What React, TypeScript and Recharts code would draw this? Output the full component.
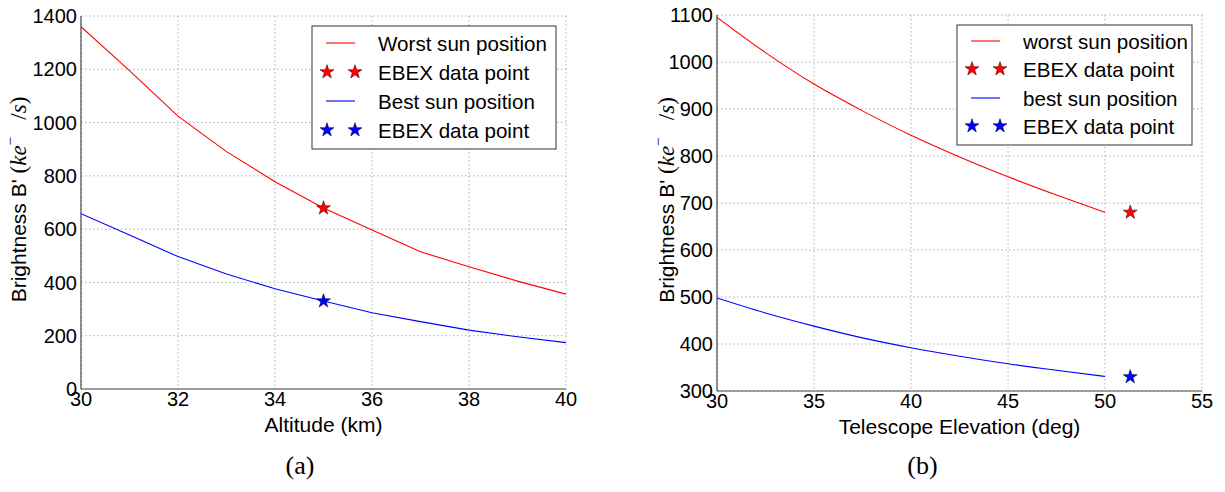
import React from 'react';
import { ComposedChart, Line, Scatter, XAxis, YAxis, CartesianGrid, Label, Symbols } from 'recharts';

// ---------- Data: panel (a) ----------
const altitudeKm = [30, 31, 32, 33, 34, 35, 36, 37, 38, 39, 40];
const worstAltitude = [1360, 1195, 1024, 891, 778, 679, 597, 515, 459, 405, 356];
const bestAltitude = [658, 578, 497, 432, 376, 330, 286, 253, 221, 196, 174];
const altitudeEbexX = [35];
const altitudeEbexWorst = [679];
const altitudeEbexBest = [330];
const altitudeTicks = [30, 32, 34, 36, 38, 40];
const altitudeBrightTicks = [0, 200, 400, 600, 800, 1000, 1200, 1400];
const altitudeLegend = ['Worst sun position', 'EBEX data point', 'Best sun position', 'EBEX data point'];

// ---------- Data: panel (b) ----------
const elevationDeg = [30, 32.5, 35, 37.5, 40, 42.5, 45, 47.5, 50];
const worstElevation = [1095, 1020, 953, 896, 844, 798, 756, 717, 680];
const bestElevation = [498, 466, 438, 413, 392, 374, 358, 344, 331];
const elevationEbexX = [51.3];
const elevationEbexWorst = [680];
const elevationEbexBest = [330];
const elevationTicks = [30, 35, 40, 45, 50, 55];
const elevationBrightTicks = [300, 400, 500, 600, 700, 800, 900, 1000, 1100];
const elevationLegend = ['worst sun position', 'EBEX data point', 'best sun position', 'EBEX data point'];

const SANS = '"Liberation Sans", Arial, Helvetica, sans-serif';
const SERIF = '"Liberation Serif", "Times New Roman", serif';
const FRAME = '#4a4a4a';
const GRID = '#b0b0b0';
const RED = '#ff0000';
const BLUE = '#0000ff';

const buildTable = (xs: number[], worst: number[], best: number[]) =>
  xs.map((x, i) => ({ x, worst: worst[i], best: best[i] }));
const buildPoints = (xs: number[], ys: number[]) => xs.map((x, i) => ({ x, y: ys[i] }));

const starShape = (fill: string, stroke: string) => (p: any) => (
  <Symbols type="star" cx={p.cx} cy={p.cy} size={60} fill={fill} stroke={stroke} strokeWidth={0.6} />
);

const YLabelContent = (cx: number) => (props: any) => {
  const vb = props.viewBox || {};
  const cy = vb.y + vb.height / 2 - 3;
  return (
    <text
      x={cx}
      y={cy}
      transform={`rotate(-90 ${cx} ${cy})`}
      textAnchor="middle"
      dominantBaseline="central"
      fill="#000"
      fontSize={21}
      fontFamily={SANS}
    >
      <tspan>Brightness B' </tspan>
      <tspan fontFamily={SERIF} fontSize={23}>(</tspan>
      <tspan fontFamily={SERIF} fontSize={23} fontStyle="italic">ke</tspan>
      <tspan fontFamily={SERIF} fontSize={15} dy={-8}>−</tspan>
      <tspan fontFamily={SERIF} fontSize={23} dy={8}>{'\u00a0\u00a0\u00a0/'}</tspan>
      <tspan fontFamily={SERIF} fontSize={23} fontStyle="italic">s</tspan>
      <tspan fontFamily={SERIF} fontSize={23}>)</tspan>
    </text>
  );
};

const XLabelContent = (text: string) => (props: any) => {
  const vb = props.viewBox || {};
  return (
    <text
      x={vb.x + vb.width / 2}
      y={vb.y + 35}
      textAnchor="middle"
      dominantBaseline="central"
      fill="#000"
      fontSize={21}
      fontFamily={SANS}
    >
      {text}
    </text>
  );
};

type PanelProps = {
  left: number;
  width: number;
  margin: { top: number; right: number; bottom: number; left: number };
  xs: number[];
  worst: number[];
  best: number[];
  ebexX: number[];
  ebexWorst: number[];
  ebexBest: number[];
  xDomain: [number, number];
  yDomain: [number, number];
  xTicks: number[];
  yTicks: number[];
  xLabel: string;
  yLabelX: number;
  curveType: 'linear' | 'monotone';
};

function Panel(p: PanelProps) {
  const table = buildTable(p.xs, p.worst, p.best);
  const worstPts = buildPoints(p.ebexX, p.ebexWorst);
  const bestPts = buildPoints(p.ebexX, p.ebexBest);
  return (
    <div style={{ position: 'absolute', left: p.left, top: 0 }}>
      <ComposedChart width={p.width} height={492} data={table} margin={p.margin}>
        <CartesianGrid xAxisId="main" yAxisId="main" stroke={GRID} strokeDasharray="1.5 2.5" />
        <XAxis
          xAxisId="main"
          dataKey="x"
          type="number"
          domain={p.xDomain}
          ticks={p.xTicks}
          allowDataOverflow
          height={30}
          tickLine={false}
          tickSize={0}
          tickMargin={3}
          axisLine={{ stroke: FRAME, strokeWidth: 1.2 }}
          tick={{ fill: '#000', fontSize: 20, fontFamily: SANS }}
        >
          <Label content={XLabelContent(p.xLabel)} />
        </XAxis>
        <XAxis xAxisId="binner" dataKey="x" type="number" domain={p.xDomain} ticks={p.xTicks} allowDataOverflow
          orientation="bottom" mirror height={0} tick={false} axisLine={false} tickSize={5} tickLine={{ stroke: FRAME }} />
        <XAxis xAxisId="top" dataKey="x" type="number" domain={p.xDomain} ticks={p.xTicks} allowDataOverflow
          orientation="top" mirror height={0} tick={false} axisLine={{ stroke: FRAME, strokeWidth: 1.2 }} tickSize={5} tickLine={{ stroke: FRAME }} />
        <YAxis
          yAxisId="main"
          type="number"
          domain={p.yDomain}
          ticks={p.yTicks}
          allowDataOverflow
          width={60}
          tickLine={false}
          tickSize={0}
          tickMargin={4}
          axisLine={{ stroke: FRAME, strokeWidth: 1.2 }}
          tick={{ fill: '#000', fontSize: 20, fontFamily: SANS }}
        >
          <Label content={YLabelContent(p.yLabelX)} />
        </YAxis>
        <YAxis yAxisId="linner" type="number" domain={p.yDomain} ticks={p.yTicks} allowDataOverflow
          orientation="left" mirror width={0} tick={false} axisLine={false} tickSize={5} tickLine={{ stroke: FRAME }} />
        <YAxis yAxisId="right" type="number" domain={p.yDomain} ticks={p.yTicks} allowDataOverflow
          orientation="right" mirror width={0} tick={false} axisLine={{ stroke: FRAME, strokeWidth: 1.2 }} tickSize={5} tickLine={{ stroke: FRAME }} />
        <Line xAxisId="main" yAxisId="main" type={p.curveType} dataKey="worst" stroke={RED} strokeWidth={1.1} dot={false} activeDot={false} isAnimationActive={false} />
        <Line xAxisId="main" yAxisId="main" type={p.curveType} dataKey="best" stroke={BLUE} strokeWidth={1.1} dot={false} activeDot={false} isAnimationActive={false} />
        <Scatter xAxisId="main" yAxisId="main" data={worstPts} dataKey="y" shape={starShape(RED, '#5a0000')} isAnimationActive={false} />
        <Scatter xAxisId="main" yAxisId="main" data={bestPts} dataKey="y" shape={starShape(BLUE, '#000050')} isAnimationActive={false} />
      </ComposedChart>
    </div>
  );
}

type LegendProps = {
  box: { x: number; y: number; w: number; h: number };
  rows: number[];
  lineX: [number, number];
  textX: number;
  labels: string[];
};

function LegendBox(l: LegendProps) {
  const colors = [RED, RED, BLUE, BLUE];
  const strokes = ['#5a0000', '#5a0000', '#000050', '#000050'];
  return (
    <svg style={{ position: 'absolute', left: 0, top: 0 }} width={1225} height={492}>
      <rect x={l.box.x} y={l.box.y} width={l.box.w} height={l.box.h} fill="#fff" stroke="#333" strokeWidth={1} />
      {l.labels.map((label, i) => (
        <g key={i}>
          {i % 2 === 0 ? (
            <line x1={l.lineX[0]} x2={l.lineX[1]} y1={l.rows[i]} y2={l.rows[i]} stroke={colors[i]} strokeWidth={1.1} />
          ) : (
            <>
              <Symbols type="star" cx={l.lineX[0] + 1} cy={l.rows[i]} size={60} fill={colors[i]} stroke={strokes[i]} strokeWidth={0.6} />
              <Symbols type="star" cx={l.lineX[1]} cy={l.rows[i]} size={60} fill={colors[i]} stroke={strokes[i]} strokeWidth={0.6} />
            </>
          )}
          <text x={l.textX} y={l.rows[i]} dominantBaseline="central" fontSize={20.6} fontFamily={SANS} fill="#000">
            {label}
          </text>
        </g>
      ))}
    </svg>
  );
}

export default function App() {
  return (
    <div style={{ position: 'absolute', left: 0, top: 0, width: 1225, height: 492, background: '#fff', overflow: 'hidden' }}>
      <Panel
        left={0}
        width={600}
        margin={{ top: 16, right: 34, bottom: 73, left: 21 }}
        xs={altitudeKm}
        worst={worstAltitude}
        best={bestAltitude}
        ebexX={altitudeEbexX}
        ebexWorst={altitudeEbexWorst}
        ebexBest={altitudeEbexBest}
        xDomain={[30, 40]}
        yDomain={[0, 1400]}
        xTicks={altitudeTicks}
        yTicks={altitudeBrightTicks}
        xLabel="Altitude (km)"
        yLabelX={18}
        curveType="linear"
      />
      <Panel
        left={620}
        width={605}
        margin={{ top: 15, right: 23, bottom: 71, left: 37 }}
        xs={elevationDeg}
        worst={worstElevation}
        best={bestElevation}
        ebexX={elevationEbexX}
        ebexWorst={elevationEbexWorst}
        ebexBest={elevationEbexBest}
        xDomain={[30, 55]}
        yDomain={[300, 1100]}
        xTicks={elevationTicks}
        yTicks={elevationBrightTicks}
        xLabel="Telescope Elevation (deg)"
        yLabelX={46}
        curveType="monotone"
      />
      <LegendBox
        box={{ x: 312, y: 26, w: 244, h: 123 }}
        rows={[43, 72, 101, 130]}
        lineX={[326, 355]}
        textX={378}
        labels={altitudeLegend}
      />
      <LegendBox
        box={{ x: 957, y: 25, w: 235, h: 120 }}
        rows={[41, 69, 98, 126]}
        lineX={[971, 1000]}
        textX={1023}
        labels={elevationLegend}
      />
      <div style={{ position: 'absolute', left: 0, top: 449, width: 600, textAlign: 'center', fontFamily: SERIF, fontSize: 26, lineHeight: '34px' }}>
        (a)
      </div>
      <div style={{ position: 'absolute', left: 620, top: 449, width: 605, textAlign: 'center', fontFamily: SERIF, fontSize: 26, lineHeight: '34px' }}>
        (b)
      </div>
    </div>
  );
}
